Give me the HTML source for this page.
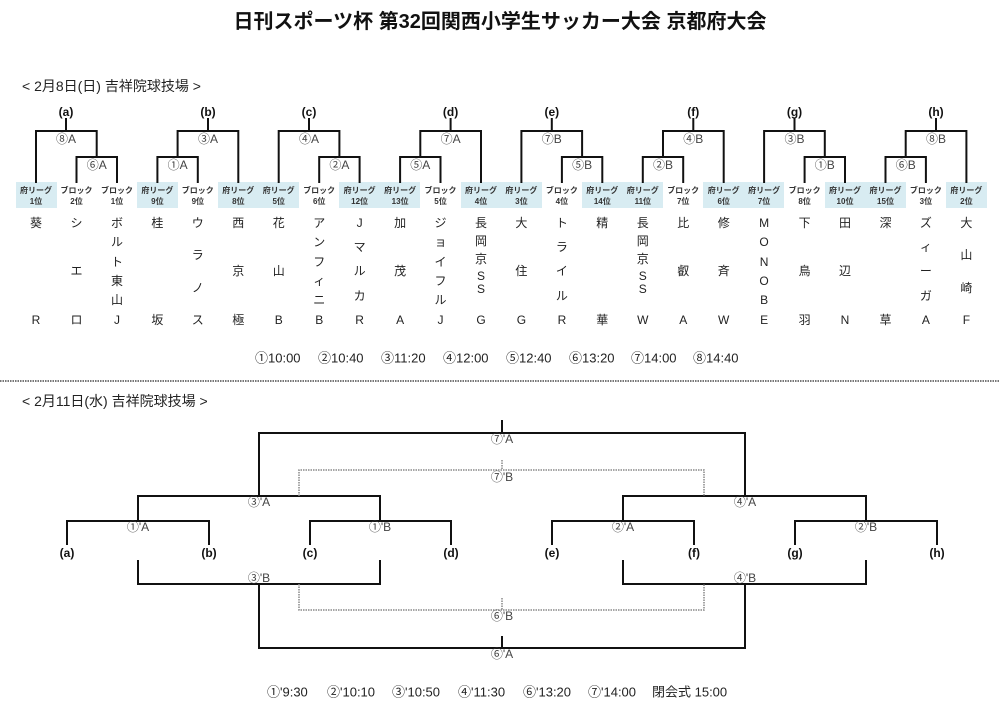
<!DOCTYPE html>
<html><head><meta charset="utf-8"><style>
html,body{margin:0;padding:0;background:#fff;}
svg{display:block;font-family:"Liberation Sans","Noto Sans CJK JP",sans-serif;}
.t{font-size:12px;text-anchor:middle;dominant-baseline:central;fill:#222;}
.b{font-size:8px;font-weight:bold;text-anchor:middle;fill:#333;}
.l{font-size:12px;text-anchor:middle;dominant-baseline:central;fill:#444;}
.g{font-size:12px;font-weight:bold;text-anchor:middle;dominant-baseline:central;fill:#111;}
</style></head><body>
<svg width="1000" height="705" viewBox="0 0 1000 705" xmlns="http://www.w3.org/2000/svg">
<text x="500" y="22" font-size="20" font-weight="bold" text-anchor="middle" dominant-baseline="central" fill="#111">日刊スポーツ杯 第32回関西小学生サッカー大会 京都府大会</text>
<text x="22" y="86" font-size="14" dominant-baseline="central" fill="#222">&lt; 2月8日(日) 吉祥院球技場 &gt;</text>

<!-- shaded boxes -->
<g fill="#d8ecf2">
<rect x="16" y="182" width="41" height="26"/>
<rect x="137" y="182" width="41" height="26"/>
<rect x="218" y="182" width="81" height="26"/>
<rect x="339" y="182" width="81" height="26"/>
<rect x="461" y="182" width="81" height="26"/>
<rect x="582" y="182" width="81" height="26"/>
<rect x="703" y="182" width="81" height="26"/>
<rect x="825" y="182" width="81" height="26"/>
<rect x="946" y="182" width="41" height="26"/>
</g>
<g class="b">
<text x="36" y="193">府リーグ</text><text x="36" y="204">1位</text>
<text x="76.5" y="193">ブロック</text><text x="76.5" y="204">2位</text>
<text x="117" y="193">ブロック</text><text x="117" y="204">1位</text>
<text x="157.4" y="193">府リーグ</text><text x="157.4" y="204">9位</text>
<text x="197.8" y="193">ブロック</text><text x="197.8" y="204">9位</text>
<text x="238.3" y="193">府リーグ</text><text x="238.3" y="204">8位</text>
<text x="278.7" y="193">府リーグ</text><text x="278.7" y="204">5位</text>
<text x="319.2" y="193">ブロック</text><text x="319.2" y="204">6位</text>
<text x="359.6" y="193">府リーグ</text><text x="359.6" y="204">12位</text>
<text x="400.1" y="193">府リーグ</text><text x="400.1" y="204">13位</text>
<text x="440.5" y="193">ブロック</text><text x="440.5" y="204">5位</text>
<text x="481" y="193">府リーグ</text><text x="481" y="204">4位</text>
<text x="521.4" y="193">府リーグ</text><text x="521.4" y="204">3位</text>
<text x="561.9" y="193">ブロック</text><text x="561.9" y="204">4位</text>
<text x="602.3" y="193">府リーグ</text><text x="602.3" y="204">14位</text>
<text x="642.8" y="193">府リーグ</text><text x="642.8" y="204">11位</text>
<text x="683.2" y="193">ブロック</text><text x="683.2" y="204">7位</text>
<text x="723.7" y="193">府リーグ</text><text x="723.7" y="204">6位</text>
<text x="764.1" y="193">府リーグ</text><text x="764.1" y="204">7位</text>
<text x="804.6" y="193">ブロック</text><text x="804.6" y="204">8位</text>
<text x="845" y="193">府リーグ</text><text x="845" y="204">10位</text>
<text x="885.5" y="193">府リーグ</text><text x="885.5" y="204">15位</text>
<text x="925.9" y="193">ブロック</text><text x="925.9" y="204">3位</text>
<text x="966.4" y="193">府リーグ</text><text x="966.4" y="204">2位</text>
</g>

<!-- top brackets -->
<g stroke="#111" stroke-width="2" fill="none">
<path d="M66 118V131M36 183V131H96.7V157M76.5 183V157H117V183"/>
<path d="M208 118V131M177.6 157V131H238.3V183M157.4 183V157H197.8V183"/>
<path d="M309 118V131M278.7 183V131H339.4V157M319.2 183V157H359.6V183"/>
<path d="M450.6 118V131M420.3 157V131H481V183M400.1 183V157H440.5V183"/>
<path d="M551.8 118V131M521.4 183V131H582.1V157M561.9 183V157H602.3V183"/>
<path d="M693.3 118V131M663 157V131H723.7V183M642.8 183V157H683.2V183"/>
<path d="M794.5 118V131M764.1 183V131H824.8V157M804.6 183V157H845V183"/>
<path d="M936 118V131M905.7 157V131H966.4V183M885.5 183V157H925.9V183"/>
</g>
<g class="g">
<text x="66" y="112">(a)</text><text x="208" y="112">(b)</text><text x="309" y="112">(c)</text><text x="450.6" y="112">(d)</text>
<text x="551.8" y="112">(e)</text><text x="693.3" y="112">(f)</text><text x="794.5" y="112">(g)</text><text x="936" y="112">(h)</text>
</g>
<g class="l">
<text x="66" y="139">⑧A</text><text x="96.7" y="165">⑥A</text>
<text x="208" y="139">③A</text><text x="177.6" y="165">①A</text>
<text x="309" y="139">④A</text><text x="339.4" y="165">②A</text>
<text x="450.6" y="139">⑦A</text><text x="420.3" y="165">⑤A</text>
<text x="551.8" y="139">⑦B</text><text x="582.1" y="165">⑤B</text>
<text x="693.3" y="139">④B</text><text x="663" y="165">②B</text>
<text x="794.5" y="139">③B</text><text x="824.8" y="165">①B</text>
<text x="936" y="139">⑧B</text><text x="905.7" y="165">⑥B</text>
</g>

<!-- team names -->
<g class="t">
<text x="36" y="223">葵</text><text x="36" y="320">R</text>
<text x="76.5" y="223">シ</text><text x="76.5" y="271">エ</text><text x="76.5" y="320">ロ</text>
<text x="117" y="223">ボ</text><text x="117" y="242">ル</text><text x="117" y="262">ト</text><text x="117" y="281">東</text><text x="117" y="300">山</text><text x="117" y="320">J</text>
<text x="157.4" y="223">桂</text><text x="157.4" y="320">坂</text>
<text x="197.8" y="223">ウ</text><text x="197.8" y="255">ラ</text><text x="197.8" y="288">ノ</text><text x="197.8" y="320">ス</text>
<text x="238.3" y="223">西</text><text x="238.3" y="271">京</text><text x="238.3" y="320">極</text>
<text x="278.7" y="223">花</text><text x="278.7" y="271">山</text><text x="278.7" y="320">B</text>
<text x="319.2" y="223">ア</text><text x="319.2" y="242">ン</text><text x="319.2" y="262">フ</text><text x="319.2" y="281">ィ</text><text x="319.2" y="300">ニ</text><text x="319.2" y="320">B</text>
<text x="359.6" y="223">J</text><text x="359.6" y="247">マ</text><text x="359.6" y="271">ル</text><text x="359.6" y="296">カ</text><text x="359.6" y="320">R</text>
<text x="400.1" y="223">加</text><text x="400.1" y="271">茂</text><text x="400.1" y="320">A</text>
<text x="440.5" y="223">ジ</text><text x="440.5" y="242">ョ</text><text x="440.5" y="262">イ</text><text x="440.5" y="281">フ</text><text x="440.5" y="300">ル</text><text x="440.5" y="320">J</text>
<text x="481" y="223">長</text><text x="481" y="241">岡</text><text x="481" y="259">京</text><text x="481" y="276">S</text><text x="481" y="289">S</text><text x="481" y="320">G</text>
<text x="521.4" y="223">大</text><text x="521.4" y="271">住</text><text x="521.4" y="320">G</text>
<text x="561.9" y="223">ト</text><text x="561.9" y="247">ラ</text><text x="561.9" y="271">イ</text><text x="561.9" y="296">ル</text><text x="561.9" y="320">R</text>
<text x="602.3" y="223">精</text><text x="602.3" y="320">華</text>
<text x="642.8" y="223">長</text><text x="642.8" y="241">岡</text><text x="642.8" y="259">京</text><text x="642.8" y="276">S</text><text x="642.8" y="289">S</text><text x="642.8" y="320">W</text>
<text x="683.2" y="223">比</text><text x="683.2" y="271">叡</text><text x="683.2" y="320">A</text>
<text x="723.7" y="223">修</text><text x="723.7" y="271">斉</text><text x="723.7" y="320">W</text>
<text x="764.1" y="223">M</text><text x="764.1" y="242">O</text><text x="764.1" y="262">N</text><text x="764.1" y="281">O</text><text x="764.1" y="300">B</text><text x="764.1" y="320">E</text>
<text x="804.6" y="223">下</text><text x="804.6" y="271">鳥</text><text x="804.6" y="320">羽</text>
<text x="845" y="223">田</text><text x="845" y="271">辺</text><text x="845" y="320">N</text>
<text x="885.5" y="223">深</text><text x="885.5" y="320">草</text>
<text x="925.9" y="223">ズ</text><text x="925.9" y="247">ィ</text><text x="925.9" y="271">ー</text><text x="925.9" y="296">ガ</text><text x="925.9" y="320">A</text>
<text x="966.4" y="223">大</text><text x="966.4" y="255">山</text><text x="966.4" y="288">崎</text><text x="966.4" y="320">F</text>
</g>

<g font-size="13" dominant-baseline="central" fill="#222">
<text x="255" y="358">①10:00</text><text x="318" y="358">②10:40</text><text x="381" y="358">③11:20</text><text x="443" y="358">④12:00</text>
<text x="506" y="358">⑤12:40</text><text x="569" y="358">⑥13:20</text><text x="631" y="358">⑦14:00</text><text x="693" y="358">⑧14:40</text>
</g>

<line x1="0" y1="381" x2="1000" y2="381" stroke="#777" stroke-width="2" stroke-dasharray="1.5 1"/>
<text x="22" y="401" font-size="14" dominant-baseline="central" fill="#222">&lt; 2月11日(水) 吉祥院球技場 &gt;</text>

<!-- bottom bracket -->
<g stroke="#111" stroke-width="2" fill="none">
<path d="M502 420V433M259 496V433H745V496"/>
<path d="M67 545V521H209V545M310 545V521H451V545M138 521V496H380V521"/>
<path d="M552 545V521H694V545M795 545V521H937V545M623 521V496H866V521"/>
<path d="M138 560V584H380V560M259 584V648H745V584M623 560V584H866V560M502 636V648"/>
</g>
<g stroke="#888" stroke-width="1.5" fill="none" stroke-dasharray="1.5 1">
<path d="M299 496V470H704V496M502 460V470"/>
<path d="M299 584V610H704V584M502 598V610"/>
</g>
<g class="l">
<text x="502" y="439">⑦'A</text><text x="502" y="477">⑦'B</text>
<text x="259" y="502">③'A</text><text x="745" y="502">④'A</text>
<text x="138" y="527">①'A</text><text x="380" y="527">①'B</text><text x="623" y="527">②'A</text><text x="866" y="527">②'B</text>
<text x="259" y="578">③'B</text><text x="745" y="578">④'B</text>
<text x="502" y="616">⑥'B</text><text x="502" y="654">⑥'A</text>
</g>
<g class="g">
<text x="67" y="553">(a)</text><text x="209" y="553">(b)</text><text x="310" y="553">(c)</text><text x="451" y="553">(d)</text>
<text x="552" y="553">(e)</text><text x="694" y="553">(f)</text><text x="795" y="553">(g)</text><text x="937" y="553">(h)</text>
</g>
<g font-size="13" dominant-baseline="central" fill="#222">
<text x="267" y="692">①'9:30</text><text x="327" y="692">②'10:10</text><text x="392" y="692">③'10:50</text><text x="458" y="692">④'11:30</text>
<text x="523" y="692">⑥'13:20</text><text x="588" y="692">⑦'14:00</text><text x="652" y="692">閉会式 15:00</text>
</g>
</svg>
</body></html>
